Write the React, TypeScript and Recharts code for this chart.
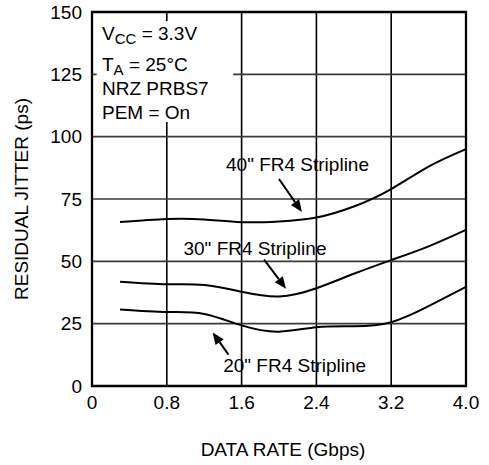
import React from 'react';
import {
  LineChart,
  Line,
  XAxis,
  YAxis,
  CartesianGrid,
  ReferenceArea,
  ReferenceLine,
  ReferenceDot,
} from 'recharts';

// Data rate (Gbps)
const dataRate = [0.3, 0.8, 1.2, 1.6, 2.0, 2.4, 2.8, 3.2, 3.6, 4.0];
// Residual jitter (ps)
const jitter40 = [65.8, 67.0, 66.8, 65.7, 66.0, 67.6, 72.0, 79.0, 88.0, 95.0];
const jitter30 = [41.8, 40.8, 40.5, 37.8, 35.9, 39.2, 45.0, 50.5, 56.0, 62.6];
const jitter20 = [30.7, 29.7, 28.9, 24.3, 21.8, 23.6, 24.0, 25.6, 32.0, 39.8];

const xTicks = [0, 0.8, 1.6, 2.4, 3.2, 4.0];
const yTicks = [0, 25, 50, 75, 100, 125, 150];

const data = dataRate.map((x, i) => ({
  x,
  s40: jitter40[i],
  s30: jitter30[i],
  s20: jitter20[i],
}));

const FONT = '"Liberation Sans", Arial, Helvetica, sans-serif';
const FS = 19;

const textShape = (content: React.ReactNode, anchor: 'start' | 'middle' = 'middle') =>
  (p: any) => (
    <text
      x={p.cx}
      y={p.cy}
      textAnchor={anchor}
      fontFamily={FONT}
      fontSize={FS}
      fill="#000"
    >
      {content}
    </text>
  );

// Arrow drawn from (x1,y1) to the head at (x2,y2)
const arrowShape = (p: any) => {
  const { x1, y1, x2, y2 } = p;
  const dx = x2 - x1;
  const dy = y2 - y1;
  const len = Math.sqrt(dx * dx + dy * dy) || 1;
  const ux = dx / len;
  const uy = dy / len;
  const headLen = 12;
  const headHalf = 5;
  const bx = x2 - ux * headLen;
  const by = y2 - uy * headLen;
  const pts = `${x2},${y2} ${bx - uy * headHalf},${by + ux * headHalf} ${bx + uy * headHalf},${by - ux * headHalf}`;
  return (
    <g>
      <line x1={x1} y1={y1} x2={bx} y2={by} stroke="#000" strokeWidth={2} />
      <polygon points={pts} fill="#000" />
    </g>
  );
};

export default function App() {
  return (
    <div style={{ position: 'absolute', left: 0, top: 0, width: 489, height: 465, background: '#fff' }}>
      <LineChart
        width={489}
        height={465}
        data={data}
        margin={{ top: 12, right: 23, left: 0, bottom: 0 }}
      >
        <CartesianGrid horizontal={false} stroke="#000" strokeWidth={1.6} />
        <CartesianGrid vertical={false} stroke="#3a3a3a" strokeWidth={1.6} />
        <XAxis
          type="number"
          dataKey="x"
          domain={[0, 4]}
          ticks={xTicks}
          tickFormatter={(v: number) => (v === 0 ? '0' : v.toFixed(1))}
          tickLine={false}
          axisLine={false}
          tickMargin={4}
          height={79}
          tick={{ fill: '#000', fontSize: FS, fontFamily: FONT }}
          interval={0}
          label={{
            content: () => (
              <text x={283} y={456} textAnchor="middle" fontFamily={FONT} fontSize={FS} fill="#000">
                DATA RATE (Gbps)
              </text>
            ),
          }}
        />
        <YAxis
          type="number"
          domain={[0, 150]}
          ticks={yTicks}
          tickLine={false}
          axisLine={false}
          tickMargin={4}
          width={92}
          tick={{ fill: '#000', fontSize: FS, fontFamily: FONT }}
          interval={0}
          label={{
            content: () => (
              <text
                x={28}
                y={199}
                transform="rotate(-90 28 199)"
                textAnchor="middle"
                fontFamily={FONT}
                fontSize={FS}
                fill="#000"
              >
                RESIDUAL JITTER (ps)
              </text>
            ),
          }}
        />
        {/* white box behind the conditions text */}
        <ReferenceArea x1={0.05} x2={1.51} y1={105.9} y2={146.4} fill="#fff" fillOpacity={1} stroke="none" />
        {/* plot frame */}
        <ReferenceArea x1={0} x2={4} y1={0} y2={150} fill="none" stroke="#000" strokeWidth={2.3} />

        <Line type="natural" dataKey="s40" stroke="#000" strokeWidth={2} dot={false} isAnimationActive={false} />
        <Line type="natural" dataKey="s30" stroke="#000" strokeWidth={2} dot={false} isAnimationActive={false} />
        <Line type="natural" dataKey="s20" stroke="#000" strokeWidth={2} dot={false} isAnimationActive={false} />

        {/* arrows */}
        <ReferenceLine segment={[{ x: 2.0, y: 83.0 }, { x: 2.245, y: 69.8 }]} shape={arrowShape} />
        <ReferenceLine segment={[{ x: 1.84, y: 50.7 }, { x: 2.075, y: 39.0 }]} shape={arrowShape} />
        <ReferenceLine segment={[{ x: 1.46, y: 12.6 }, { x: 1.29, y: 21.5 }]} shape={arrowShape} />

        {/* curve labels */}
        <ReferenceDot x={2.198} y={86.2} r={1} shape={textShape('40" FR4 Stripline')} />
        <ReferenceDot x={1.743} y={52.7} r={1} shape={textShape('30" FR4 Stripline')} />
        <ReferenceDot x={2.168} y={5.74} r={1} shape={textShape('20" FR4 Stripline')} />

        {/* conditions */}
        <ReferenceDot
          x={0.107}
          y={138.8}
          r={1}
          shape={textShape(
            <>
              <tspan>V</tspan>
              <tspan dy={4} fontSize={15}>CC</tspan>
              <tspan dy={-4}> = 3.3V</tspan>
            </>,
            'start'
          )}
        />
        <ReferenceDot
          x={0.107}
          y={126.3}
          r={1}
          shape={textShape(
            <>
              <tspan>T</tspan>
              <tspan dy={4} fontSize={15}>A</tspan>
              <tspan dy={-4}> = 25°C</tspan>
            </>,
            'start'
          )}
        />
        <ReferenceDot x={0.107} y={116.6} r={1} shape={textShape('NRZ PRBS7', 'start')} />
        <ReferenceDot x={0.107} y={107.0} r={1} shape={textShape('PEM = On', 'start')} />
      </LineChart>
    </div>
  );
}
